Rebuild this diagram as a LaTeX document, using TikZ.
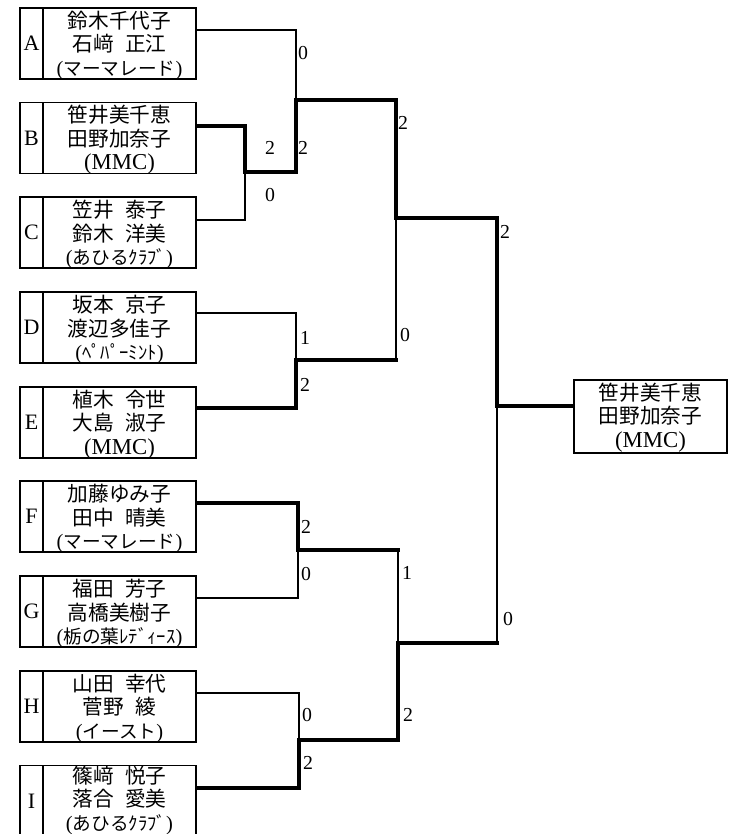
\documentclass[tikz,border=0pt]{standalone}
\usepackage{fontspec}
\setmainfont{Liberation Serif}[Scale=1.1]
\newfontfamily\jp{Noto Sans CJK JP}
\usetikzlibrary{calc}
\newcommand\jgap{\hspace{0.55em}}
\newcommand\kn[1]{{\fontsize{14pt}{17.6pt}\selectfont({\jp #1})}}
\begin{document}
\begin{tikzpicture}[x=0.75pt,y=-0.75pt,
  namebox/.style={draw, line width=1pt, minimum width=114.75pt, minimum height=53.25pt, inner sep=0pt},
  nametext/.style={inner sep=0pt, align=center, font=\fontsize{15.5pt}{17.6pt}\selectfont},
  letterbox/.style={draw, line width=1pt, minimum width=17.25pt, minimum height=53.25pt, inner sep=0pt, font=\fontsize{15pt}{18pt}\selectfont},
  score/.style={inner sep=0pt, font=\fontsize{13.5pt}{15pt}\selectfont},
  win/.style={line width=2.6pt, line cap=rect},
  lose/.style={line width=0.9pt, line cap=rect}]
\useasboundingbox (0,0) rectangle (734,834);
\clip (0,0) rectangle (734,834);

% entries
\node[letterbox] (A) at (31.5,43.5) {A};
\node[namebox] (An) at (119.5,43.5) {};
\node[nametext] (At) at ($(An.center)+(0,2)$) {{\jp 鈴木千代子}\\{\jp 石﨑\jgap 正江}\\\kn{マーマレード}};
\node[letterbox] (B) at (31.5,138) {B};
\node[namebox] (Bn) at (119.5,138) {};
\node[nametext] (Bt) at ($(Bn.center)+(0,2)$) {{\jp 笹井美千恵}\\{\jp 田野加奈子}\\(MMC)};
\node[letterbox] (C) at (31.5,232.5) {C};
\node[namebox] (Cn) at (119.5,232.5) {};
\node[nametext] (Ct) at ($(Cn.center)+(0,2)$) {{\jp 笠井\jgap 泰子}\\{\jp 鈴木\jgap 洋美}\\\kn{あひるｸﾗﾌﾞ}};
\node[letterbox] (D) at (31.5,327.5) {D};
\node[namebox] (Dn) at (119.5,327.5) {};
\node[nametext] (Dt) at ($(Dn.center)+(0,2)$) {{\jp 坂本\jgap 京子}\\{\jp 渡辺多佳子}\\\kn{ﾍﾟﾊﾟｰﾐﾝﾄ}};
\node[letterbox] (E) at (31.5,422.5) {E};
\node[namebox] (En) at (119.5,422.5) {};
\node[nametext] (Et) at ($(En.center)+(0,2)$) {{\jp 植木\jgap 令世}\\{\jp 大島\jgap 淑子}\\(MMC)};
\node[letterbox] (F) at (31.5,516.5) {F};
\node[namebox] (Fn) at (119.5,516.5) {};
\node[nametext] (Ft) at ($(Fn.center)+(0,2)$) {{\jp 加藤ゆみ子}\\{\jp 田中\jgap 晴美}\\\kn{マーマレード}};
\node[letterbox] (G) at (31.5,611.5) {G};
\node[namebox] (Gn) at (119.5,611.5) {};
\node[nametext] (Gt) at ($(Gn.center)+(0,2)$) {{\jp 福田\jgap 芳子}\\{\jp 高橋美樹子}\\\kn{栃の葉ﾚﾃﾞｨｰｽ}};
\node[letterbox] (H) at (31.5,706.5) {H};
\node[namebox] (Hn) at (119.5,706.5) {};
\node[nametext] (Ht) at ($(Hn.center)+(0,2)$) {{\jp 山田\jgap 幸代}\\{\jp 菅野\jgap 綾}\\\kn{イースト}};
\node[letterbox] (I) at (31.5,801) {I};
\node[namebox] (In) at (119.5,801) {};
\node[nametext] (It) at ($(In.center)+(0,-1)$) {{\jp 篠﨑\jgap 悦子}\\{\jp 落合\jgap 愛美}\\\kn{あひるｸﾗﾌﾞ}};

% winner
\node[namebox, minimum height=54.75pt] (W) at (650.5,416.5) {};
\node[nametext] (Wt) at ($(W.center)+(0,1)$) {{\jp 笹井美千恵}\\{\jp 田野加奈子}\\(MMC)};

% line start points
\coordinate (pA) at ($(An.east)+(0,-13.5)$);
\coordinate (pB) at ($(Bn.east)+(0,-12)$);
\coordinate (pC) at ($(Cn.east)+(0,-12.5)$);
\coordinate (pD) at ($(Dn.east)+(0,-14.5)$);
\coordinate (pE) at ($(En.east)+(0,-14.5)$);
\coordinate (pF) at ($(Fn.east)+(0,-13.5)$);
\coordinate (pG) at ($(Gn.east)+(0,-13.5)$);
\coordinate (pH) at ($(Hn.east)+(0,-13.5)$);
\coordinate (pI) at ($(In.east)+(0,-13)$);

% junctions
\coordinate (m1) at (245,172);
\coordinate (m2) at (296,100);
\coordinate (m3) at (296,360);
\coordinate (m4) at (396,218);
\coordinate (m5) at (298,550);
\coordinate (m6) at (299,740);
\coordinate (m7) at (398,643);
\coordinate (m8) at (497,406);

% round 1
\draw[win] (pB) -| (m1);
\draw[lose] (pC) -| (m1);
\draw[lose] (pA) -| (m2);
\draw[win] (m1) -| (m2);
\draw[lose] (pD) -| (m3);
\draw[win] (pE) -| (m3);
\draw[win] (pF) -| (m5);
\draw[lose] (pG) -| (m5);
\draw[lose] (pH) -| (m6);
\draw[win] (pI) -| (m6);
% round 3
\draw[win] (m2) -| (m4);
\draw[win] (m3) -- (m3 -| m4);
\draw[lose] (m3 -| m4) -- (m4);
\draw[win] (m5) -- (m5 -| m7);
\draw[lose] (m5 -| m7) -- (m7);
\draw[win] (m6) -| (m7);
% final
\draw[win] (m4) -| (m8);
\draw[win] (m7) -- (m7 -| m8);
\draw[lose] (m7 -| m8) -- (m8);
\draw[win] (m8) -- (m8 -| W.west);

% scores
\node[score] (s1) at (270,148) {2};
\node[score] (s2) at (270,195) {0};
\node[score] (s3) at (303,53) {0};
\node[score] (s4) at (303,148) {2};
\node[score] (s5) at (305,338) {1};
\node[score] (s6) at (305,385) {2};
\node[score] (s7) at (403,123) {2};
\node[score] (s8) at (405,335) {0};
\node[score] (s9) at (306,527) {2};
\node[score] (s10) at (306,574) {0};
\node[score] (s11) at (307,715) {0};
\node[score] (s12) at (308,763) {2};
\node[score] (s13) at (407,573) {1};
\node[score] (s14) at (408,715) {2};
\node[score] (s15) at (505,232) {2};
\node[score] (s16) at (508,619) {0};
\end{tikzpicture}
\end{document}
